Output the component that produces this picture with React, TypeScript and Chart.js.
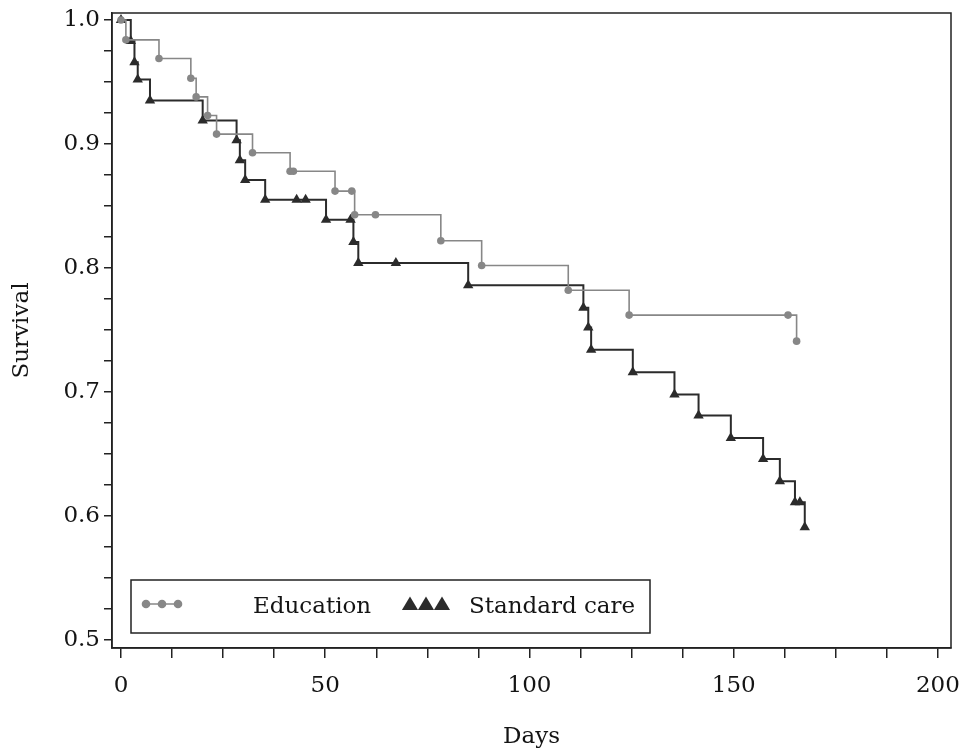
import React, { useEffect, useRef } from 'react';
import { Chart, registerables } from 'chart.js';

Chart.register(...registerables);

// Education group (Kaplan-Meier steps + censor marks)
const eduDays = [0, 1.2, 9.3, 17.1, 18.4, 21.2, 23.4, 32.2, 41.4, 42.2, 52.4, 56.5, 57.2, 62.3, 78.3, 88.3, 109.5, 124.4, 163.3, 165.4];
const eduSurvival = [1.0, 0.984, 0.969, 0.953, 0.938, 0.923, 0.908, 0.893, 0.878, 0.878, 0.862, 0.862, 0.843, 0.843, 0.822, 0.802, 0.782, 0.762, 0.762, 0.741];

// Standard care group
const stdDays = [0, 2.4, 3.3, 4.1, 7.1, 20.0, 28.3, 29.1, 30.4, 35.3, 43.0, 45.2, 50.2, 56.2, 56.9, 58.1, 67.3, 85.0, 113.2, 114.4, 115.1, 125.3, 135.5, 141.4, 149.3, 157.2, 161.3, 165.0, 166.2, 167.4];
const stdSurvival = [1.0, 0.983, 0.966, 0.952, 0.935, 0.919, 0.903, 0.887, 0.871, 0.855, 0.855, 0.855, 0.839, 0.839, 0.821, 0.804, 0.804, 0.786, 0.768, 0.752, 0.734, 0.716, 0.698, 0.681, 0.663, 0.646, 0.628, 0.611, 0.611, 0.591];

const seriesNames = ['Education', 'Standard care'];

const xTickValues = [0, 12.5, 25, 37.5, 50, 62.5, 75, 87.5, 100, 112.5, 125, 137.5, 150, 162.5, 175, 187.5, 200];
const xTickLabels = ['0', '', '', '', '50', '', '', '', '100', '', '', '', '150', '', '', '', '200'];
const yTickValues = [0.5, 0.525, 0.55, 0.575, 0.6, 0.625, 0.65, 0.675, 0.7, 0.725, 0.75, 0.775, 0.8, 0.825, 0.85, 0.875, 0.9, 0.925, 0.95, 0.975, 1.0];
const yTickLabels = ['0.5', '', '', '', '0.6', '', '', '', '0.7', '', '', '', '0.8', '', '', '', '0.9', '', '', '', '1.0'];

const xTitle = 'Days';
const yTitle = 'Survival';

const FONT = '"DejaVu Serif", serif';
const FONT_SIZE = 23;
const TEXT = '#141414';
const GRAY = '#878787';
const DARK = '#2b2b2b';
const FRAME = '#222222';

const framePlugin = {
  id: 'frame',
  beforeDatasetsDraw(chart: any) {
    const { ctx, chartArea } = chart;
    ctx.save();
    ctx.strokeStyle = FRAME;
    ctx.lineWidth = 1.5;
    ctx.strokeRect(chartArea.left, chartArea.top, chartArea.right - chartArea.left, chartArea.bottom - chartArea.top);
    ctx.restore();
  },
};

function drawTriangle(ctx: CanvasRenderingContext2D, x: number, y: number, s: number) {
  ctx.beginPath();
  ctx.moveTo(x, y - s);
  ctx.lineTo(x + s * 0.95, y + s * 0.6);
  ctx.lineTo(x - s * 0.95, y + s * 0.6);
  ctx.closePath();
  ctx.fill();
}

const legendPlugin = {
  id: 'kmLegend',
  afterDraw(chart: any) {
    const { ctx, chartArea } = chart;
    const left = chartArea.left + 19;
    const top = chartArea.bottom - 68;
    const w = 519;
    const h = 53;
    ctx.save();
    ctx.fillStyle = '#ffffff';
    ctx.fillRect(left, top, w, h);
    ctx.strokeStyle = FRAME;
    ctx.lineWidth = 1.5;
    ctx.strokeRect(left, top, w, h);
    const cy = top + 24;
    // Education sample
    ctx.strokeStyle = GRAY;
    ctx.lineWidth = 1.5;
    ctx.beginPath();
    ctx.moveTo(left + 14, cy);
    ctx.lineTo(left + 48, cy);
    ctx.stroke();
    ctx.fillStyle = GRAY;
    [left + 15, left + 31, left + 47].forEach((x) => {
      ctx.beginPath();
      ctx.arc(x, cy, 4.3, 0, Math.PI * 2);
      ctx.fill();
    });
    // Standard care sample
    ctx.fillStyle = DARK;
    [left + 279, left + 295, left + 311].forEach((x) => drawTriangle(ctx, x, cy + 1, 8.5));
    ctx.fillStyle = TEXT;
    ctx.font = FONT_SIZE + 'px ' + FONT;
    ctx.textBaseline = 'middle';
    ctx.textAlign = 'left';
    ctx.fillText(seriesNames[0], left + 122, cy + 3);
    ctx.fillText(seriesNames[1], left + 338, cy + 3);
    ctx.restore();
  },
};

export default function App() {
  const ref = useRef<HTMLCanvasElement | null>(null);

  useEffect(() => {
    if (!ref.current) return;
    const eduData = eduDays.map((d, i) => ({ x: d, y: eduSurvival[i] }));
    const stdData = stdDays.map((d, i) => ({ x: d, y: stdSurvival[i] }));
    const chart = new Chart(ref.current, {
      type: 'line',
      data: {
        datasets: [
          {
            label: seriesNames[0],
            data: eduData,
            stepped: 'before',
            borderColor: GRAY,
            borderWidth: 1.6,
            pointStyle: 'circle',
            pointRadius: 3.8,
            pointBackgroundColor: GRAY,
            pointBorderColor: GRAY,
            pointBorderWidth: 0,
            fill: false,
            clip: false as any,
          },
          {
            label: seriesNames[1],
            data: stdData,
            stepped: 'before',
            borderColor: DARK,
            borderWidth: 2,
            pointStyle: 'triangle',
            pointRadius: 6,
            pointBackgroundColor: DARK,
            pointBorderColor: DARK,
            pointBorderWidth: 0,
            fill: false,
            clip: false as any,
          },
        ],
      },
      options: {
        responsive: false,
        animation: false,
        events: [],
        layout: { padding: { top: 13, right: 14, left: 0, bottom: 0 } },
        plugins: {
          legend: { display: false },
          tooltip: { enabled: false },
        },
        scales: {
          x: {
            type: 'linear',
            min: -2.2,
            max: 203.2,
            afterBuildTicks: (scale: any) => {
              scale.ticks = xTickValues.map((v) => ({ value: v }));
            },
            afterFit: (scale: any) => {
              scale.height = 105;
              scale.paddingLeft = 0;
              scale.paddingRight = 0;
            },
            ticks: {
              autoSkip: false,
              maxRotation: 0,
              padding: 14,
              color: TEXT,
              font: { family: FONT, size: FONT_SIZE },
              callback: (_v: any, i: number) => xTickLabels[i],
            },
            grid: {
              drawOnChartArea: false,
              drawTicks: true,
              tickLength: 10,
              color: FRAME,
              lineWidth: 1.5,
            },
            border: { display: true, color: FRAME, width: 1.5 },
            title: {
              display: true,
              text: xTitle,
              color: TEXT,
              font: { family: FONT, size: FONT_SIZE },
              padding: { top: 0, bottom: 2 },
            },
          },
          y: {
            type: 'linear',
            min: 0.49355,
            max: 1.00565,
            afterBuildTicks: (scale: any) => {
              scale.ticks = yTickValues.map((v) => ({ value: v }));
            },
            afterFit: (scale: any) => {
              scale.width = 112;
              scale.paddingTop = 0;
              scale.paddingBottom = 0;
            },
            ticks: {
              autoSkip: false,
              padding: 4,
              color: TEXT,
              font: { family: FONT, size: FONT_SIZE },
              callback: (_v: any, i: number) => yTickLabels[i],
            },
            grid: {
              drawOnChartArea: false,
              drawTicks: true,
              tickLength: 8,
              color: FRAME,
              lineWidth: 1.5,
            },
            border: { display: true, color: FRAME, width: 1.5 },
            title: {
              display: true,
              text: yTitle,
              color: TEXT,
              font: { family: FONT, size: FONT_SIZE },
              padding: { top: 8, bottom: 0 },
            },
          },
        },
      },
      plugins: [framePlugin, legendPlugin],
    });
    return () => chart.destroy();
  }, []);

  return (
    <div style={{ position: 'fixed', left: 0, top: 0, width: 965, height: 753, background: '#ffffff' }}>
      <canvas ref={ref} width={965} height={753} />
    </div>
  );
}
